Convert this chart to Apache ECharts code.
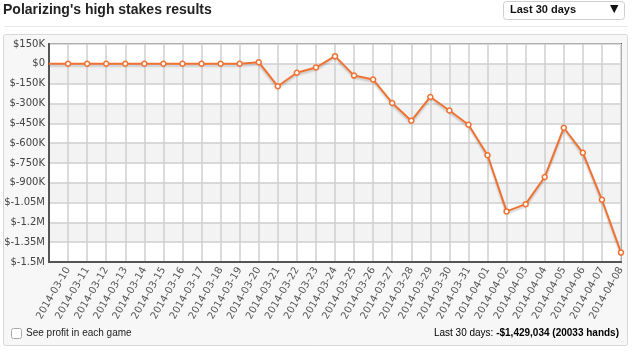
<!DOCTYPE html>
<html>
<head>
<meta charset="utf-8">
<title>Polarizing's high stakes results</title>
<script src="https://cdn.jsdelivr.net/npm/echarts@6/dist/echarts.min.js"></script>
<style>
  html, body { margin: 0; padding: 0; background: #fff; }
  #chart { width: 632px; height: 353px; }
</style>
</head>
<body>
<div id="chart"></div>
<script>
// first slot is the unlabeled starting point at the axis
const days = ['',
  '2014-03-10', '2014-03-11', '2014-03-12', '2014-03-13', '2014-03-14',
  '2014-03-15', '2014-03-16', '2014-03-17', '2014-03-18', '2014-03-19',
  '2014-03-20', '2014-03-21', '2014-03-22', '2014-03-23', '2014-03-24',
  '2014-03-25', '2014-03-26', '2014-03-27', '2014-03-28', '2014-03-29',
  '2014-03-30', '2014-03-31', '2014-04-01', '2014-04-02', '2014-04-03',
  '2014-04-04', '2014-04-05', '2014-04-06', '2014-04-07', '2014-04-08'];

const profit = [0,
  0, 0, 0, 0, 0,
  0, 0, 0, 0, 0,
  12000, -170000, -68000, -28000, 58000,
  -89000, -119000, -296000, -431000, -251000,
  -353000, -461000, -692000, -1117000, -1062000,
  -857000, -484000, -674000, -1029000, -1429034];

const yMin = -1500000;
const yMax = 150000;
const yStep = 150000;

const orange = '#f07232';

function moneyLabel(v) {
  if (v === 0) return '$0';
  if (Math.abs(v) >= 1000000) return '$' + (Math.round(v / 10000) / 100) + 'M';
  return '$' + (v / 1000) + 'K';
}

const chart = echarts.init(document.getElementById('chart'));

chart.setOption({
  animation: false,
  backgroundColor: '#fff',
  title: {
    text: "Polarizing's high stakes results",
    left: 3,
    top: 3,
    padding: 0,
    textStyle: { fontFamily: 'Liberation Sans', fontSize: 14, fontWeight: 'bold', color: '#222' }
  },
  graphic: [
    { type: 'line', z: -10, shape: { x1: 4, y1: 26.5, x2: 628, y2: 26.5 }, style: { stroke: '#e8e8e8', lineWidth: 1 } },
    { type: 'rect', z: -10, shape: { x: 3.5, y: 34.5, width: 624, height: 311, r: 2 },
      style: { fill: '#f7f7f7', stroke: '#d8d8d8', lineWidth: 1 } },
    { type: 'rect', shape: { x: 503.5, y: 1.5, width: 121, height: 18, r: 3 },
      style: { fill: '#fff', stroke: '#cfcfcf', lineWidth: 1 } },
    { type: 'text', left: 510, top: 4,
      style: { text: 'Last 30 days', font: 'bold 11px "Liberation Sans"', fill: '#111' } },
    { type: 'text', left: 610, top: 4,
      style: { text: '▼', font: '11px "DejaVu Sans"', fill: '#111' } },
    { type: 'rect', shape: { x: 11.5, y: 328.5, width: 10, height: 10, r: 2 },
      style: { fill: '#fff', stroke: '#aaa', lineWidth: 1 } },
    { type: 'text', left: 26, top: 328,
      style: { text: 'See profit in each game', font: '10px "Liberation Sans"', fill: '#222' } },
    { type: 'text', right: 13, top: 328,
      style: {
        text: '{n|Last 30 days: }{b|-$1,429,034 (20033 hands)}',
        rich: {
          n: { fontFamily: 'Liberation Sans', fontSize: 10, color: '#222' },
          b: { fontFamily: 'Liberation Sans', fontSize: 10, fontWeight: 'bold', color: '#111' }
        }
      } }
  ],
  grid: {
    left: 49, right: 11, top: 44, bottom: 91,
    show: true, backgroundColor: '#fff', borderColor: '#555', borderWidth: 2
  },
  xAxis: {
    type: 'category',
    data: days,
    boundaryGap: false,
    axisLine: { onZero: false, lineStyle: { color: '#555', width: 2 } },
    axisTick: { show: false },
    axisLabel: {
      interval: 0, rotate: 60, margin: 6,
      fontFamily: 'DejaVu Sans', fontSize: 10, color: '#555'
    },
    splitLine: { show: true, lineStyle: { color: '#cfcfcf', width: 1.5 } }
  },
  yAxis: {
    type: 'value',
    min: yMin, max: yMax, interval: yStep,
    axisLine: { show: true, lineStyle: { color: '#555', width: 2 } },
    axisTick: { show: false },
    axisLabel: {
      margin: 4, formatter: moneyLabel,
      fontFamily: 'DejaVu Sans', fontSize: 10, color: '#444'
    },
    splitLine: { lineStyle: { color: '#cfcfcf', width: 1.5 } },
    splitArea: { show: true, areaStyle: { color: ['#ffffff', '#f3f3f3'] } }
  },
  series: [{
    type: 'line',
    data: profit.map((v, i) => i === 0 ? { value: v, symbol: 'none' } : v),
    symbol: 'circle',
    symbolSize: 5,
    itemStyle: { color: '#fff', borderColor: orange, borderWidth: 1.5 },
    lineStyle: {
      color: orange, width: 2,
      shadowColor: 'rgba(0,0,0,0.2)', shadowBlur: 2, shadowOffsetY: 2
    }
  }]
});
</script>
</body>
</html>
